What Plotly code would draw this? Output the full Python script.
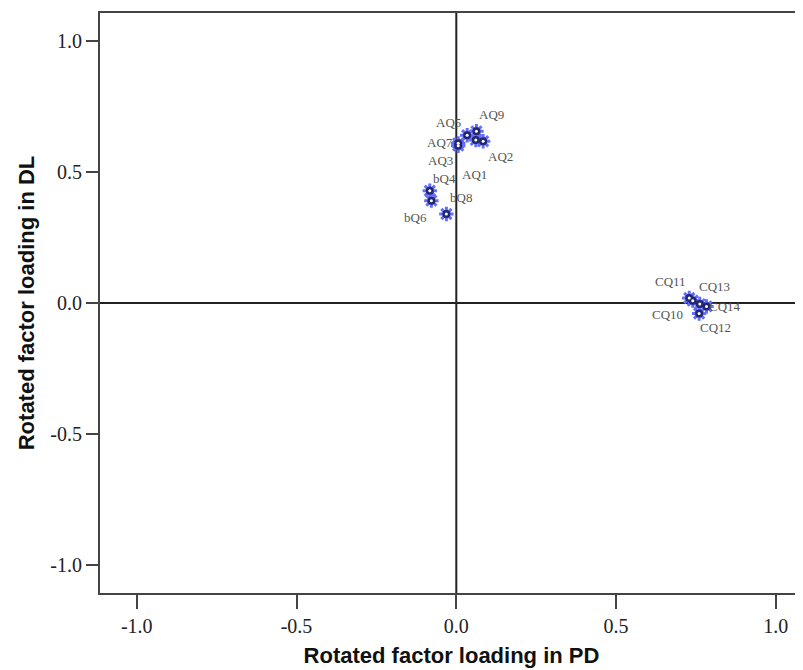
import plotly.graph_objects as go

labels = ["AQ1", "AQ2", "AQ3", "AQ5", "AQ7", "AQ9", "bQ4", "bQ6", "bQ8",
          "CQ10", "CQ11", "CQ12", "CQ13", "CQ14"]
pd_loading = [0.061, 0.084, 0.006, 0.034, 0.006, 0.063, -0.083, -0.031, -0.078,
              0.740, 0.729, 0.760, 0.762, 0.783]
dl_loading = [0.623, 0.618, 0.601, 0.641, 0.610, 0.656, 0.429, 0.340, 0.391,
              0.009, 0.019, -0.040, -0.004, -0.013]

x_ticks = [-1.0, -0.5, 0.0, 0.5, 1.0]
y_ticks = [-1.0, -0.5, 0.0, 0.5, 1.0]
tick_text = ["-1.0", "-0.5", "0.0", "0.5", "1.0"]

# pixel offsets of labels (style only)
label_offsets = {
    "AQ1": (-1, 35), "AQ2": (17, 15), "AQ3": (-18, 15), "AQ5": (-19, -13),
    "AQ7": (-18, -1), "AQ9": (15, -17), "bQ4": (15, -12), "bQ6": (-31, 3),
    "bQ8": (30, -3), "CQ10": (-25, 14), "CQ11": (-19, -17), "CQ12": (16, 14),
    "CQ13": (15, -18), "CQ14": (18, 0),
}

navy = "#23266e"
fig = go.Figure()
fig.add_trace(go.Scatter(
    x=pd_loading, y=dl_loading, mode="markers",
    marker=dict(symbol="asterisk-open", size=12, line=dict(color=navy, width=3)),
    hoverinfo="skip", showlegend=False))
fig.add_trace(go.Scatter(
    x=pd_loading, y=dl_loading, mode="markers",
    marker=dict(symbol="circle", size=8, color=navy, line=dict(color=navy, width=0)),
    hoverinfo="skip", showlegend=False))
fig.add_trace(go.Scatter(
    x=pd_loading, y=dl_loading, mode="markers",
    marker=dict(symbol="circle", size=3, color="white", line=dict(width=0)),
    hoverinfo="skip", showlegend=False))

for lab, xv, yv in zip(labels, pd_loading, dl_loading):
    dx, dy = label_offsets[lab]
    fig.add_annotation(x=xv, y=yv, text=lab, showarrow=False,
                       xshift=dx, yshift=-dy,
                       font=dict(family="Liberation Serif", size=13, color="#555555"))

fig.add_shape(type="line", x0=0, x1=0, y0=-1.108, y1=1.108, xref="x", yref="y",
              line=dict(color="#222222", width=2), layer="below")
fig.add_shape(type="line", x0=-1.115, x1=1.085, y0=0, y1=0, xref="x", yref="y",
              line=dict(color="#222222", width=2), layer="below")

fig.update_layout(
    width=795, height=662,
    margin=dict(l=92, r=0, t=5, b=77),
    plot_bgcolor="white", paper_bgcolor="white",
    xaxis=dict(range=[-1.115, 1.085], tickvals=x_ticks, ticktext=tick_text,
               showgrid=False, zeroline=False, showline=True, mirror=True,
               linecolor="#444444", linewidth=2,
               ticks="outside", ticklen=14, tickwidth=2, tickcolor="#444444",
               tickfont=dict(family="Liberation Serif", size=20, color="#222222"),
               title=dict(text="<b>Rotated factor loading in PD</b>", standoff=12,
                          font=dict(family="Liberation Sans", size=22, color="#111111"))),
    yaxis=dict(range=[-1.108, 1.108], tickvals=y_ticks, ticktext=tick_text,
               showgrid=False, zeroline=False, showline=True,
               linecolor="#444444", linewidth=2,
               ticks="outside", ticklen=12, tickwidth=2, tickcolor="#444444",
               tickfont=dict(family="Liberation Serif", size=20, color="#222222"),
               title=dict(text="<b>Rotated factor loading in DL</b>", standoff=10,
                          font=dict(family="Liberation Sans", size=22, color="#111111"))),
)

fig.write_html("out.html")
